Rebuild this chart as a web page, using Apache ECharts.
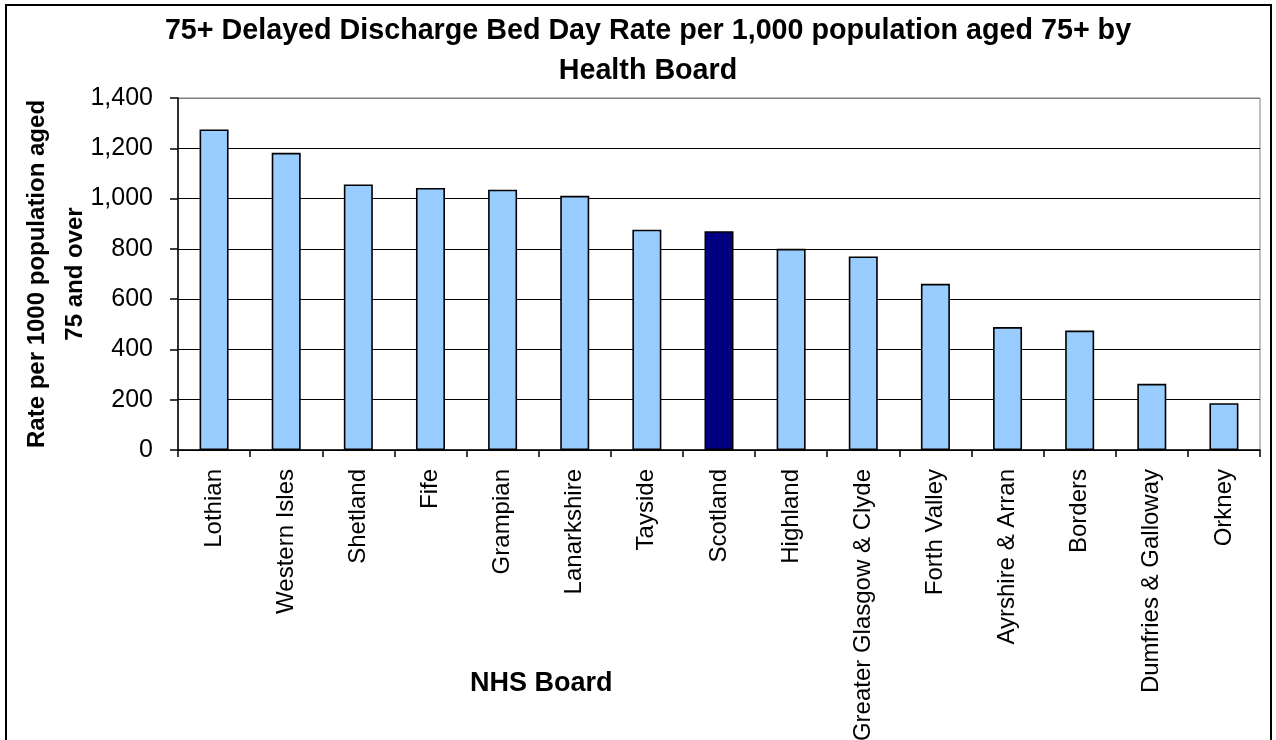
<!DOCTYPE html>
<html>
<head>
<meta charset="utf-8">
<script src="https://cdn.jsdelivr.net/npm/echarts@6/dist/echarts.min.js"></script>
<style>
  html, body { margin: 0; padding: 0; background: #fff; }
  #main { width: 1276px; height: 740px; }
</style>
</head>
<body>
<div id="main"></div>
<script>
// NHS boards, sorted by rate
var boards = [
  "Lothian", "Western Isles", "Shetland", "Fife", "Grampian", "Lanarkshire",
  "Tayside", "Scotland", "Highland", "Greater Glasgow & Clyde", "Forth Valley",
  "Ayrshire & Arran", "Borders", "Dumfries & Galloway", "Orkney"
];
var rates = [1275, 1182, 1056, 1042, 1035, 1011, 876, 870, 800, 770, 661, 489, 475, 263, 186];
var yTicks = [0, 200, 400, 600, 800, 1000, 1200, 1400];
var highlight = "Scotland";

var font = "Liberation Sans, Arial, sans-serif";
var chart = echarts.init(document.getElementById("main"));

var barData = rates.map(function (v, i) {
  var item = { value: v };
  if (boards[i] === highlight) item.itemStyle = { color: "#000080" };
  return item;
});

// top gridline is grey, the rest black
var gridColors = yTicks.map(function (t, i) {
  return i === yTicks.length - 1 ? "#808080" : "#000";
});

var option = {
  backgroundColor: "#fff",
  animation: false,
  title: {
    text: "75+ Delayed Discharge Bed Day Rate per 1,000 population aged 75+ by\nHealth Board",
    left: 643,
    top: 6,
    textAlign: "center",
    textStyle: { fontFamily: font, fontSize: 28.7, fontWeight: "bold", color: "#000", lineHeight: 40 }
  },
  grid: {
    left: 178, right: 16, top: 98, bottom: 290,
    containLabel: false, outerBoundsMode: "none",
    show: true, borderColor: "#808080", borderWidth: 1
  },
  xAxis: {
    type: "category",
    data: boards,
    axisLine: { lineStyle: { color: "#000", width: 1.5 } },
    axisTick: { show: true, length: 7, lineStyle: { color: "#000", width: 1.5 } },
    axisLabel: {
      interval: 0, rotate: 90, margin: 19,
      fontFamily: font, fontSize: 24, color: "#000"
    }
  },
  yAxis: {
    type: "value",
    min: 0, max: yTicks[yTicks.length - 1], interval: 200,
    name: "Rate per 1000 population aged\n75 and over",
    nameLocation: "middle",
    nameGap: 84,
    nameMoveOverlap: false,
    nameTextStyle: { fontFamily: font, fontSize: 24, fontWeight: "bold", color: "#000", lineHeight: 38 },
    axisLine: { show: true, lineStyle: { color: "#000", width: 1.5 } },
    axisTick: { show: true, length: 8, lineStyle: { color: "#000", width: 1.5 } },
    axisLabel: {
      margin: 25, fontFamily: font, fontSize: 25, color: "#000",
      formatter: function (v) { return v.toLocaleString("en-GB"); }
    },
    splitLine: { show: true, lineStyle: { color: gridColors, width: 1.2 } }
  },
  series: [{
    type: "bar",
    data: barData,
    barWidth: 29,
    itemStyle: { color: "#99CCFF", borderColor: "#000", borderWidth: 1.6 }
  }],
  graphic: [
    {
      type: "rect",
      shape: { x: 6, y: 5, width: 1265, height: 760 },
      style: { fill: null, stroke: "#000", lineWidth: 2 },
      silent: true
    },
    {
      type: "text",
      left: 470, top: 670,
      style: { text: "NHS Board", fontFamily: font, fontSize: 27, fontWeight: "bold", fill: "#000" }
    }
  ]
};

chart.setOption(option);
</script>
</body>
</html>
